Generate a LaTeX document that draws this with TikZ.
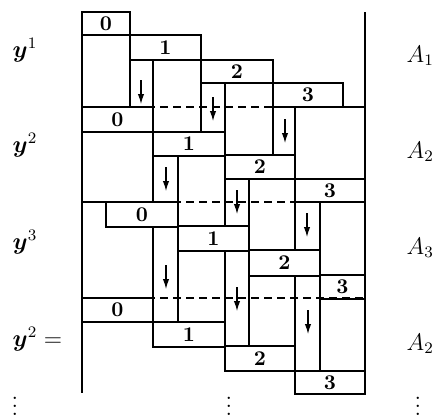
\documentclass[tikz,border=0pt]{standalone}
\usepackage{amsmath,bm}
\usetikzlibrary{arrows.meta}
\begin{document}
\begin{tikzpicture}[x=0.5pt,y=-0.5pt,line width=0.7pt,
    sep/.style={dash pattern=on 4pt off 2.5pt},
    dn/.style={-{Latex[length=5pt,width=3.2pt]},line width=0.6pt},
    num/.style={font=\bfseries\fontsize{10.5}{12}\selectfont,inner sep=0pt},
    lab/.style={anchor=base west,inner sep=0pt,font=\large}]
  \useasboundingbox (0,0) rectangle (442,418);
  % period boundaries
  \foreach \y in {107,202,298}
    \draw[sep] (82,\y) -- (365,\y);
  % time axes
  \coordinate (l0) at (82,12);
  \coordinate (l1) at (82,393);
  \coordinate (r0) at (365,12);
  \coordinate (r1) at (365,393);
  \draw (l0) -- (l1);
  \draw (r0) -- (r1);
  % columns under the stages
  \foreach \a/\b/\c/\d in {82/35/130/107, 130/60/153/107, 153/60/201/132,
      201/83/225/132, 225/83/273/155, 273/107/295/155, 295/107/365/179,
      82/132/153/202, 153/156/178/202, 178/156/225/226, 225/179/249/226,
      249/179/295/250, 295/202/320/250, 320/202/365/275,
      153/227/178/322, 178/251/225/322, 225/251/249/346, 249/276/295/346,
      295/276/320/371, 320/299/365/371}
    \draw (\a,\b) rectangle (\c,\d);
  % stage boxes
  \foreach \n/\a/\b/\c/\d/\t in {
      p1s0/82/12/130/35/0, p1s1/130/35/201/60/1, p1s2/201/60/273/83/2, p1s3/273/83/343/107/3,
      p2s0/82/107/153/132/0, p2s1/153/132/225/156/1, p2s2/225/155/295/179/2, p2s3/295/179/365/202/3,
      p3s0/106/202/178/227/0, p3s1/178/226/249/251/1, p3s2/249/250/320/276/2, p3s3/320/275/365/299/3,
      p4s0/82/298/153/322/0, p4s1/153/322/225/347/1, p4s2/225/346/295/371/2, p4s3/295/371/365/394/3}{
    \draw (\a,\b) rectangle (\c,\d);
    \node[num] (\n) at ({(\a+\c)/2},{(\b+\d)/2}) {\t};
  }
  % data moving down
  \foreach \x/\y in {141/80, 213/97, 285/119, 166/167, 237/190, 307/213,
      166/265, 237/287, 308/310}
    \draw[dn] (\x,\y) -- ++(0,24);
  % labels
  \node[lab] (y1) at (12,57) {$\bm{y}^1$};
  \node[lab] (y2) at (12,152) {$\bm{y}^2$};
  \node[lab] (y3) at (12,249) {$\bm{y}^3$};
  \node[lab] (y4) at (12,346) {$\bm{y}^2 =$};
  \node[lab] (a1) at (406,62) {$A_1$};
  \node[lab] (a2) at (406,158) {$A_2$};
  \node[lab] (a3) at (406,254) {$A_3$};
  \node[lab] (a4) at (406,350) {$A_2$};
  \foreach \x/\n in {15/d1, 229/d2, 418/d3}
    \node[anchor=south,inner sep=0pt,font=\large] (\n) at (\x,416) {$\vdots$};
\end{tikzpicture}
\end{document}
